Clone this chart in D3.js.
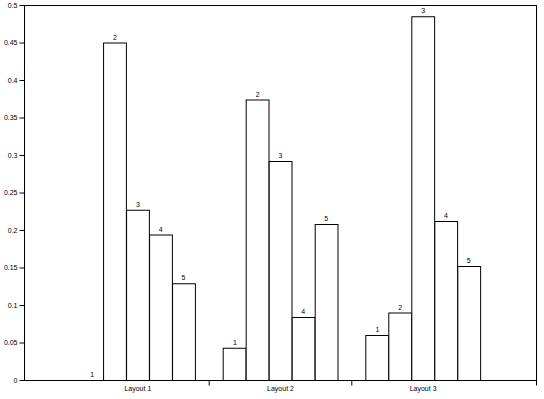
<!DOCTYPE html>
<html>
<head>
<meta charset="utf-8">
<script src="https://cdn.jsdelivr.net/npm/d3@7"></script>
<style>
  body { margin: 0; background: #fff; }
  svg { display: block; }
  text { font-family: "Liberation Sans", Arial, sans-serif; fill: #000; }
</style>
</head>
<body>
<svg width="544" height="399"></svg>
<script>
// groups and series
const layouts = ['Layout 1', 'Layout 2', 'Layout 3'];
const series = ['1', '2', '3', '4', '5'];
const layout1 = [0, 0.450, 0.227, 0.194, 0.129];
const layout2 = [0.043, 0.374, 0.292, 0.084, 0.208];
const layout3 = [0.060, 0.090, 0.485, 0.212, 0.152];
const yTicks = [0, 0.05, 0.1, 0.15, 0.2, 0.25, 0.3, 0.35, 0.4, 0.45, 0.5];

const values = [layout1, layout2, layout3];

const svg = d3.select('svg');
const mLeft = 24, mRight = 8, mTop = 5, mBottom = 19;
const width = 544 - mLeft - mRight;
const height = 399 - mTop - mBottom;

const x0 = d3.scaleBand().domain(layouts).range([0, width])
  .paddingInner(0).paddingOuter(0.295);
// five bars fill 80% of each group
const x1 = d3.scaleBand().domain(series).range([0, x0.bandwidth()])
  .paddingInner(0).paddingOuter(0.625);
const y = d3.scaleLinear().domain([0, 0.5]).range([height, 0]);

const g = svg.append('g').attr('transform', `translate(${mLeft},${mTop})`);

// frame
g.append('rect')
  .attr('x', 0.5).attr('y', 0.5)
  .attr('width', width).attr('height', height)
  .attr('fill', 'none').attr('stroke', '#000').attr('stroke-width', 1);

// y axis
const yAxis = d3.axisLeft(y).tickValues(yTicks).tickSizeInner(5).tickSizeOuter(0)
  .tickPadding(2).tickFormat(d => d === 0 ? '0' : String(d));
const yG = g.append('g').attr('transform', 'translate(0.5,0)').call(yAxis);
yG.select('.domain').remove();
yG.selectAll('text').style('font-size', '7px').style('font-family', '"Liberation Sans", Arial, sans-serif');

// x axis: ticks on group boundaries, labels centred
const xG = g.append('g').attr('transform', `translate(0.5,${height + 0.5})`);
const bounds = layouts.slice(1).map(l => x0(l));
bounds.push(width);
xG.selectAll('line.tick').data(bounds).join('line')
  .attr('class', 'tick')
  .attr('x1', d => d).attr('x2', d => d)
  .attr('y1', 0).attr('y2', 5)
  .attr('stroke', '#000');
xG.selectAll('text').data(layouts).join('text')
  .attr('x', d => x0(d) + x0.bandwidth() / 2)
  .attr('y', 10)
  .attr('text-anchor', 'middle')
  .style('font-size', '7px')
  .text(d => d);

// bars
const groups = g.selectAll('g.grp').data(values).join('g')
  .attr('class', 'grp')
  .attr('transform', (d, i) => `translate(${x0(layouts[i])},0)`);

groups.selectAll('rect').data(d => d).join('rect')
  .attr('x', (d, i) => Math.round(x1(series[i])) + 0.5)
  .attr('y', d => y(d) + 0.5)
  .attr('width', x1.bandwidth())
  .attr('height', d => height - y(d))
  .attr('fill', '#fff')
  .attr('stroke', '#000')
  .attr('stroke-width', 1);

groups.selectAll('text').data(d => d).join('text')
  .attr('x', (d, i) => x1(series[i]) + x1.bandwidth() / 2 + 0.5)
  .attr('y', d => y(d) - 3)
  .attr('text-anchor', 'middle')
  .style('font-size', '7px')
  .text((d, i) => series[i]);
</script>
</body>
</html>
